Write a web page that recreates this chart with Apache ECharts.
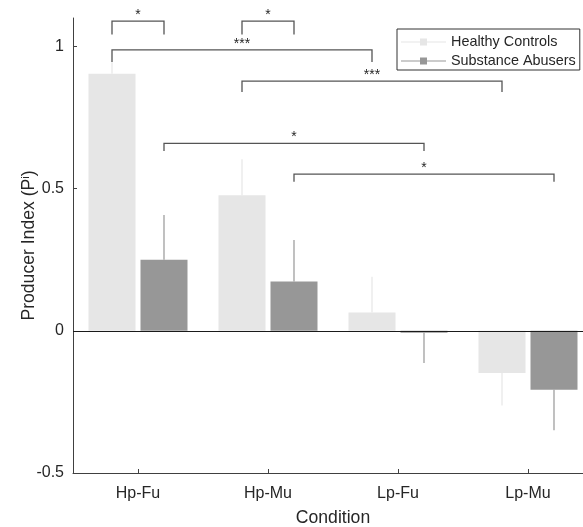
<!DOCTYPE html>
<html>
<head>
<meta charset="utf-8">
<script src="https://cdn.jsdelivr.net/npm/echarts@6/dist/echarts.min.js"></script>
<style>
  html, body { margin: 0; padding: 0; background: #fff; }
  #chart { width: 583px; height: 527px; }
</style>
</head>
<body>
<div id="chart"></div>
<script>
// 数据
const categories = ['Hp-Fu', 'Hp-Mu', 'Lp-Fu', 'Lp-Mu'];
const healthy = [0.904, 0.477, 0.064, -0.148];
const abusers = [0.25, 0.173, -0.007, -0.207];
const healthyErr = [0.04, 0.126, 0.126, 0.115];
const abusersErr = [0.157, 0.146, 0.106, 0.143];
const yTicks = [-0.5, 0, 0.5, 1];
// 显著性标记: [类别1, 组1, 类别2, 组2, 横线 y, 竖线末端 y, 文字]
const brackets = [
    [0, 0, 0, 1, 1.089, 1.042, '*'],
    [1, 0, 1, 1, 1.089, 1.042, '*'],
    [0, 0, 2, 0, 0.988, 0.945, '***'],
    [1, 0, 3, 0, 0.878, 0.840, '***'],
    [0, 1, 2, 1, 0.659, 0.632, '*'],
    [1, 1, 3, 1, 0.551, 0.524, '*']
];

const HC_COLOR = '#e6e6e6';
const SA_COLOR = '#979797';
const TEXT = '#262626';
const BAR_W = 47;
const BAR_GAP = 5;
const OFFSET = (BAR_W + BAR_GAP) / 2; // 柱中心相对类别中心的偏移(px)
const FONT = 'Liberation Sans, Arial, Helvetica, sans-serif';
// 坐标轴右端超出画布(原图被裁切)
const X_MAX = 3.5 - 10 / 130;

const chart = echarts.init(document.getElementById('chart'));

//误差线
function errSeries(values, errs, group, color) {
    const data = values.map((v, i) => [i, v, v + (v < 0 ? -errs[i] : errs[i])]);
    return {
        type: 'custom',
        silent: true,
        z: 3,
        data: data,
        renderItem(params, api) {
            const a = api.coord([api.value(0), api.value(1)]);
            const b = api.coord([api.value(0), api.value(2)]);
            const x = a[0] + (group ? OFFSET : -OFFSET);
            return {
                type: 'line',
                shape: { x1: x, y1: a[1], x2: x, y2: b[1] },
                style: { stroke: color, lineWidth: 1.2 }
            };
        }
    };
}

const option = {
    animation: false,
    backgroundColor: '#fff',
    textStyle: { fontFamily: FONT },
    grid: { left: 73, right: 0, top: 18, bottom: 54, outerBoundsMode: 'none', containLabel: false },
    legend: {
        orient: 'vertical',
        left: 397,
        top: 29,
        padding: [6, 4, 2, 4],
        itemGap: 5,
        itemWidth: 45,
        itemHeight: 7,
        itemStyle: { borderWidth: 0 },
        borderColor: '#333',
        borderWidth: 1,
        backgroundColor: '#fff',
        textStyle: { fontSize: 14.4, color: TEXT, fontFamily: FONT },
        icon: 'path://M0,3L45,3L45,4L0,4Z M19,0L26,0L26,7L19,7Z',
        data: ['Healthy Controls', 'Substance Abusers']
    },
    xAxis: {
        type: 'value',
        min: -0.5,
        max: X_MAX,
        name: 'Condition',
        nameLocation: 'middle',
        nameGap: 36,
        nameMoveOverlap: false,
        nameTextStyle: { fontSize: 17.6, color: TEXT, fontFamily: FONT, padding: [0, 0, 0, 10] },
        axisLine: { show: true, onZero: false, lineStyle: { color: '#404040', width: 1 } },
        axisTick: { show: true, inside: true, length: 4, customValues: [0, 1, 2, 3], lineStyle: { color: '#404040' } },
        axisLabel: {
            fontSize: 16, color: TEXT, margin: 13, fontFamily: FONT,
            customValues: [0, 1, 2, 3],
            formatter: v => categories[v]
        },
        splitLine: { show: false }
    },
    yAxis: {
        type: 'value',
        min: -0.5,
        max: 1.1,
        interval: 0.5,
        name: 'Producer Index (P{sup|i})',
        nameLocation: 'middle',
        nameGap: 35,
        nameMoveOverlap: false,
        nameTextStyle: {
            fontSize: 17.6, color: TEXT, fontFamily: FONT,
            rich: { sup: { fontSize: 11, verticalAlign: 'top', color: TEXT, fontFamily: FONT } }
        },
        axisLine: { show: true, onZero: false, lineStyle: { color: '#404040', width: 1 } },
        axisTick: { show: true, inside: true, length: 4, customValues: yTicks, lineStyle: { color: '#404040' } },
        axisLabel: { fontSize: 16, color: TEXT, margin: 9, customValues: yTicks, fontFamily: FONT },
        splitLine: { show: false }
    },
    series: [{
        name: 'Healthy Controls',
        type: 'bar',
        data: healthy.map((v, i) => [i, v]),
        barWidth: BAR_W,
        barGap: (BAR_GAP / BAR_W * 100) + '%',
        itemStyle: { color: HC_COLOR },
        markLine: {
            silent: true,
            symbol: 'none',
            label: { show: false },
            lineStyle: { color: '#1a1a1a', width: 1, type: 'solid' },
            data: [{ yAxis: 0 }],
            z: 5
        }
    }, {
        name: 'Substance Abusers',
        type: 'bar',
        data: abusers.map((v, i) => [i, v]),
        barWidth: BAR_W,
        itemStyle: { color: SA_COLOR }
    },
    errSeries(healthy, healthyErr, 0, HC_COLOR),
    errSeries(abusers, abusersErr, 1, SA_COLOR),
    {
        //显著性括号
        type: 'custom',
        silent: true,
        z: 6,
        data: brackets.map(b => [b[0], b[4], b[2], b[5]]),
        renderItem(params, api) {
            const b = brackets[params.dataIndex];
            const p1 = api.coord([b[0], b[4]]);
            const p2 = api.coord([b[2], b[4]]);
            const leg = api.coord([b[0], b[5]])[1];
            const x1 = p1[0] + (b[1] ? OFFSET : -OFFSET);
            const x2 = p2[0] + (b[3] ? OFFSET : -OFFSET);
            const y = p1[1];
            return {
                type: 'group',
                children: [{
                    type: 'polyline',
                    shape: { points: [[x1, leg], [x1, y], [x2, y], [x2, leg]] },
                    style: { stroke: '#555', lineWidth: 1.3, fill: null }
                }, {
                    type: 'text',
                    x: (x1 + x2) / 2,
                    y: y + 1,
                    style: {
                        text: b[6],
                        fontSize: 14,
                        fontFamily: FONT,
                        fill: TEXT,
                        align: 'center',
                        verticalAlign: 'bottom'
                    }
                }]
            };
        }
    }]
};

chart.setOption(option);
</script>
</body>
</html>
